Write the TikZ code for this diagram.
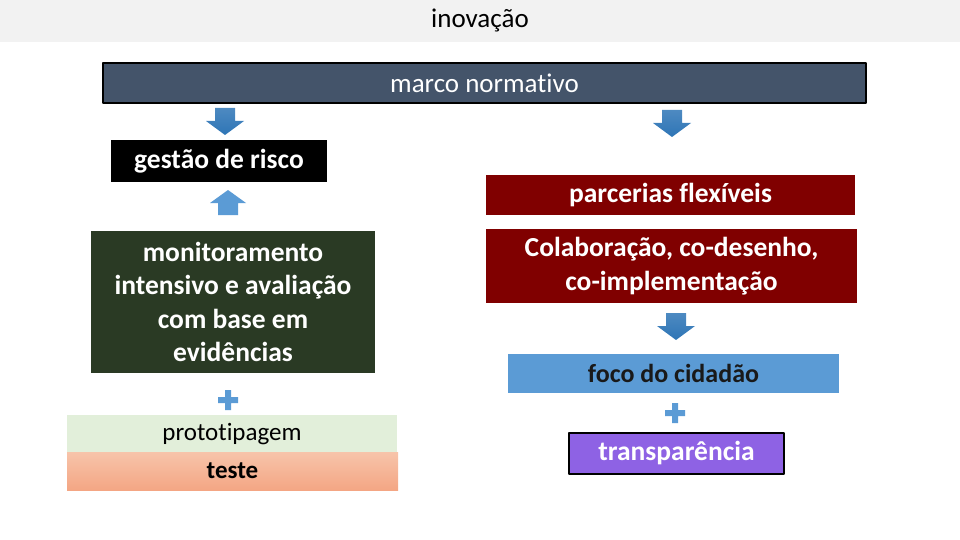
\documentclass[tikz,border=0pt]{standalone}
\usepackage{fontspec}
\setmainfont{Carlito}[Ligatures=NoCommon]
\definecolor{band}{HTML}{F2F2F2}
\definecolor{slate}{HTML}{44546A}
\definecolor{darkgreen}{RGB}{42,58,36}
\definecolor{lightgreen}{HTML}{E2EFDA}
\definecolor{salmontop}{RGB}{247,196,170}
\definecolor{salmonbot}{RGB}{244,166,132}
\definecolor{maroon}{RGB}{128,0,0}
\definecolor{skyblue}{HTML}{5B9BD5}
\definecolor{arrowblue}{HTML}{2E75B6}
\definecolor{violet}{RGB}{142,98,228}
\tikzset{
  box/.style={rectangle,inner sep=2pt,align=center,font=\fontsize{25}{33}\selectfont},
  whitebox/.style={box,text=white,font=\fontsize{27.5}{33.5}\selectfont\bfseries},
  blockdown/.style={top color=arrowblue!85!white,bottom color=arrowblue},
}
\begin{document}
\begin{tikzpicture}[x=1pt,y=-1pt,line join=round]
\useasboundingbox (0,0) rectangle (960,540);
\fill[band] (0,0) rectangle (960,42);
\node[box,font=\fontsize{27}{30}\selectfont] (title) at (480,20) {inovação};
% top frame
\node[box,fill=slate,draw=black,line width=1.5pt,text=white,minimum width=763,minimum height=40,font=\fontsize{27}{30}\selectfont] (marco) at (484.5,83) {marco normativo};
% left column
\node[whitebox,fill=black,minimum width=216,minimum height=42] (risco) at (219,161) {gestão de risco};
\node[whitebox,fill=darkgreen,minimum width=284,minimum height=142] (monit) at (233,302)
  {monitoramento\\intensivo e avaliação\\com base em\\evidências};
\node[box,fill=lightgreen,minimum width=330,minimum height=38] (proto) at (232,434) {prototipagem};
\node[box,top color=salmontop,bottom color=salmonbot,minimum width=331,minimum height=38,font=\fontsize{25}{33}\selectfont\bfseries] (teste) at (232.5,471) {teste};
% right column
\node[whitebox,fill=maroon,minimum width=369,minimum height=40] (parc) at (670.5,195) {parcerias flexíveis};
\node[whitebox,fill=maroon,minimum width=371,minimum height=74] (colab) at (671.5,266)
  {Colaboração, co-desenho,\\co-implementação};
\node[box,fill=skyblue,minimum width=331,minimum height=39,text=black!90,font=\fontsize{26}{33}\selectfont\bfseries] (foco) at (673.5,373) {foco do cidadão};
\node[whitebox,fill=violet,draw=black,line width=1.5pt,minimum width=215,minimum height=41] (transp) at (676.5,453.5) {transparência};
% block arrows
\foreach \x/\y in {225/108,672/110,676/313}
  \shade[blockdown] (\x-10,\y) -- (\x+10,\y) -- (\x+10,\y+13) -- (\x+19,\y+13) -- (\x,\y+27)
    -- (\x-19,\y+13) -- (\x-10,\y+13) -- cycle;
\fill[skyblue] (228,190) -- (246,203) -- (238,203) -- (238,215) -- (218,215) -- (218,203) -- (210,203) -- cycle;
% plus signs
\foreach \x/\y in {228/400,675/413}
  \fill[skyblue] (\x-3,\y-10) rectangle (\x+3,\y+10) (\x-10,\y-3) rectangle (\x+10,\y+3);
\end{tikzpicture}
\end{document}
